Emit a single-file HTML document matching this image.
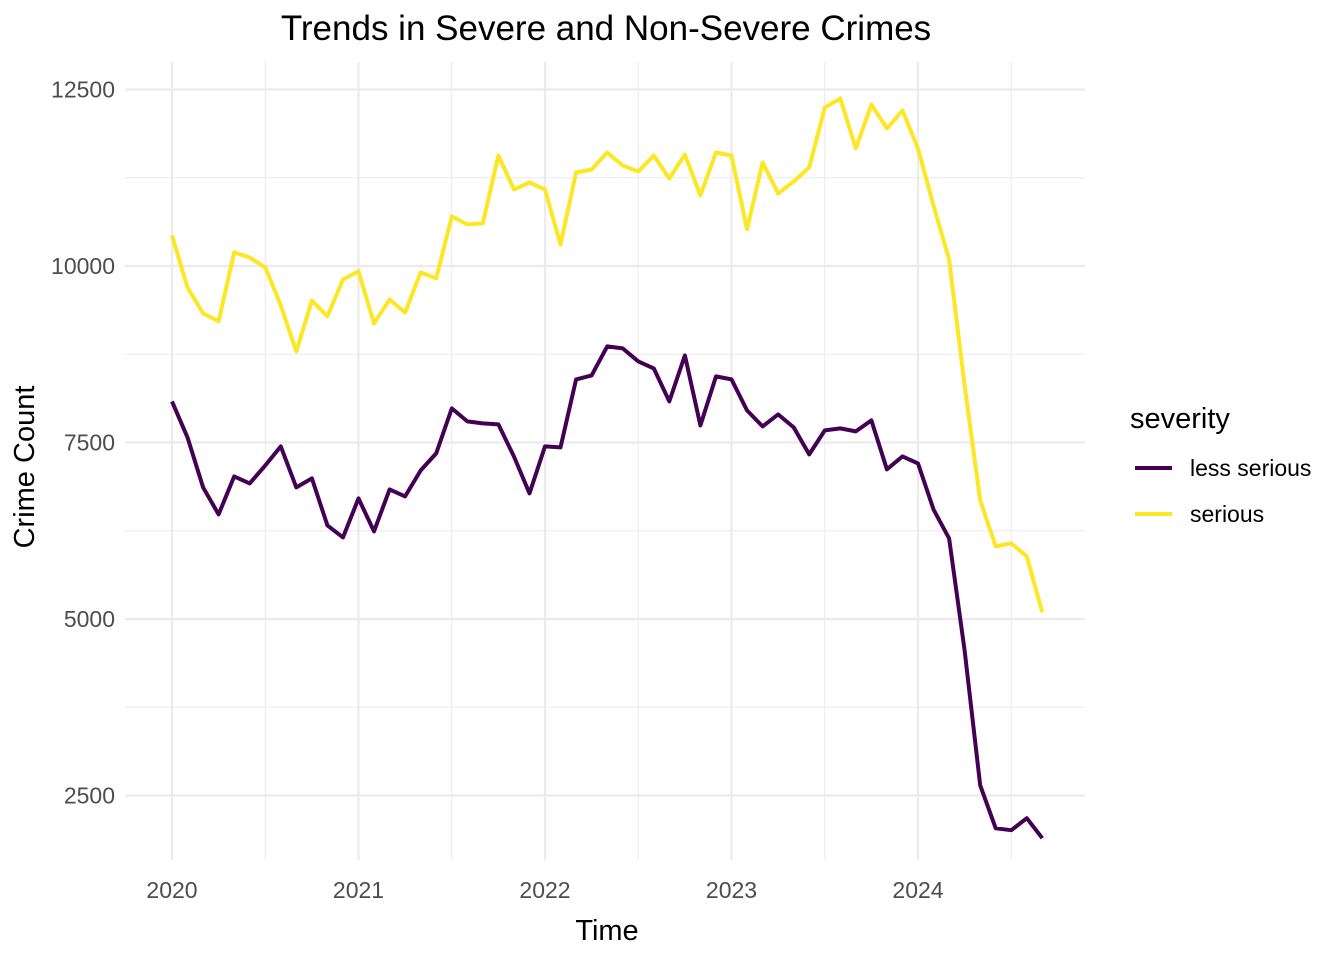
<!DOCTYPE html>
<html><head><meta charset="utf-8"><style>
html,body{margin:0;padding:0;background:#fff;}
svg{display:block;font-family:"Liberation Sans",Arial,sans-serif;}
</style></head><body>
<svg id="chart" width="1344" height="960" viewBox="0 0 1344 960" xmlns="http://www.w3.org/2000/svg">
<g id="grid"></g>
<g id="axes"></g>
<g id="series"></g>
<text x="606" y="40" font-size="35" text-anchor="middle" fill="#000">Trends in Severe and Non-Severe Crimes</text>
<text x="607" y="940" font-size="29" text-anchor="middle" fill="#000">Time</text>
<text transform="translate(34,467) rotate(-90)" font-size="29" text-anchor="middle" fill="#000">Crime Count</text>
<g>
<text x="1130" y="428" font-size="29" fill="#000">severity</text>
<g>
<line x1="1135" y1="468" x2="1172" y2="468" stroke="#440154" stroke-width="4"/>
<text x="1190" y="476" font-size="23" fill="#000">less serious</text></g>
<g>
<line x1="1135" y1="514" x2="1172" y2="514" stroke="#FDE725" stroke-width="4"/>
<text x="1190" y="522" font-size="23" fill="#000">serious</text></g>
</g>
</svg>
<script>
const startYear = 2020;
const xTickLabels = ["2020","2021","2022","2023","2024"];
const yTickValues = [2500,5000,7500,10000,12500];
const seriousValues = [10432,9696,9328,9215,10192,10121,9980,9441,8790,9512,9286,9810,9923,9187,9526,9342,9909,9824,10702,10589,10603,11565,11084,11183,11084,10305,11325,11367,11608,11424,11339,11565,11240,11580,10999,11608,11565,10518,11466,11027,11197,11395,12245,12373,11665,12288,11948,12203,11665,10857,10093,8309,6680,6029,6071,5887,5094];
const lessSeriousValues = [8082,7572,6864,6482,7020,6921,7176,7445,6864,6992,6326,6156,6708,6241,6836,6737,7105,7346,7983,7799,7771,7756,7303,6779,7445,7431,8394,8450,8861,8833,8649,8549,8082,8734,7742,8436,8394,7955,7728,7898,7714,7332,7672,7700,7657,7813,7119,7303,7204,6553,6142,4556,2645,2036,2008,2178,1895];

const NS="http://www.w3.org/2000/svg";
const panel={l:125,r:1085,t:62,b:860};
function xScale(monthIndex){return 172+monthIndex*(186.5/12);}
function yScale(v){return 266-(v-10000)*(176.5/2500);}
function mk(tag,attrs,parent){const e=document.createElementNS(NS,tag);for(const k in attrs)e.setAttribute(k,attrs[k]);parent.appendChild(e);return e;}
const grid=document.getElementById('grid'),axes=document.getElementById('axes'),series=document.getElementById('series');

for(let i=0;i<yTickValues.length-1;i++){
  const v=(yTickValues[i]+yTickValues[i+1])/2;
  const l=mk('line',{x1:panel.l,x2:panel.r,y1:yScale(v),y2:yScale(v),stroke:'#ebebeb','stroke-width':1.1},grid);
  
  
}
for(let i=0;i<xTickLabels.length;i++){
  const x=xScale(i*12+6);
  const l=mk('line',{x1:x,x2:x,y1:panel.t,y2:panel.b,stroke:'#ebebeb','stroke-width':1.1},grid);
  
  
}
yTickValues.forEach(v=>{
  const y=yScale(v);
  const l=mk('line',{x1:panel.l,x2:panel.r,y1:y,y2:y,stroke:'#ebebeb','stroke-width':2.2},grid);
  
  
  const t=mk('text',{x:115,y:y+8,'font-size':23,'text-anchor':'end',fill:'#4d4d4d'},axes);
  t.textContent=String(v);
  
  
});
xTickLabels.forEach((lab,i)=>{
  const x=xScale((parseInt(lab)-startYear)*12);
  const l=mk('line',{x1:x,x2:x,y1:panel.t,y2:panel.b,stroke:'#ebebeb','stroke-width':2.2},grid);
  
  
  const t=mk('text',{x:x,y:898,'font-size':23,'text-anchor':'middle',fill:'#4d4d4d'},axes);
  t.textContent=lab;
  
  
});
function drawLine(vals,color,name){
  const d=vals.map((v,i)=>(i?'L':'M')+xScale(i).toFixed(1)+','+yScale(v).toFixed(1)).join(' ');
  const p=mk('path',{d:d,fill:'none',stroke:color,'stroke-width':4,'stroke-linejoin':'round'},series);
  
  
}
drawLine(lessSeriousValues,'#440154','less-serious-line');
drawLine(seriousValues,'#FDE725','serious-line');
</script>
</body></html>
